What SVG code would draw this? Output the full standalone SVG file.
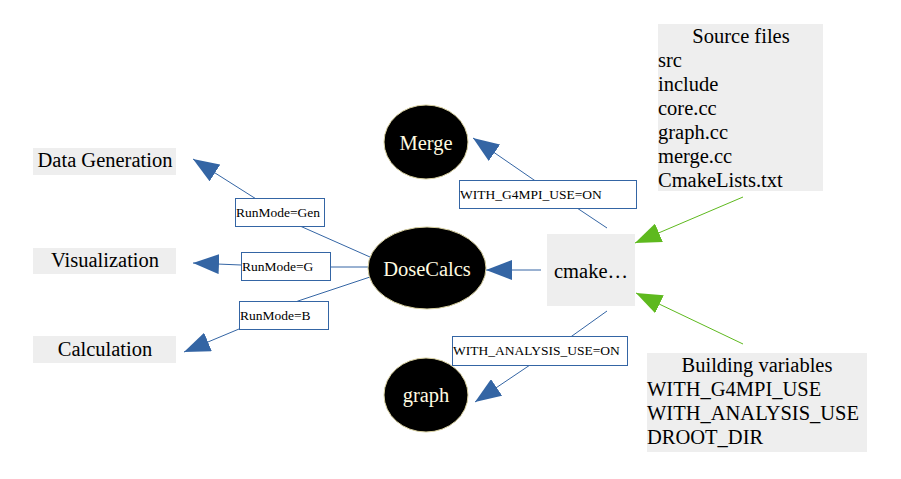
<svg xmlns="http://www.w3.org/2000/svg" width="901" height="479" viewBox="0 0 901 479">
<defs>
<marker id="ab" markerUnits="userSpaceOnUse" markerWidth="26" markerHeight="20" refX="26" refY="10" orient="auto" viewBox="0 0 26 20">
<path d="M0,0 L26,10 L0,20 z" fill="#3465a4"/>
</marker>
<marker id="ag" markerUnits="userSpaceOnUse" markerWidth="26" markerHeight="20" refX="26" refY="10" orient="auto" viewBox="0 0 26 20">
<path d="M0,0 L26,10 L0,20 z" fill="#5eb91e"/>
</marker>
<style>
.t{font-family:"Liberation Serif","Times New Roman",serif;font-size:20.5px;fill:#000}
.c{text-anchor:middle}
.w{font-family:"Liberation Serif","Times New Roman",serif;font-size:20.5px;fill:#fffbe0;text-anchor:middle}
.l{font-family:"Liberation Serif","Times New Roman",serif;font-size:13.5px;fill:#000}
.g{fill:#eeeeee}
.e{fill:#000;stroke:#d8d0a0;stroke-width:1}
.cb{fill:none;stroke:#3465a4;stroke-width:1;marker-end:url(#ab)}
.cg{fill:none;stroke:#5eb91e;stroke-width:1;marker-end:url(#ag)}
.lb{fill:#fff;stroke:#3465a4;stroke-width:1}
</style>
</defs>
<g id="connectors">
<path class="cb" d="M370,257 L300,226 L253,197 L193,159"/>
<path class="cb" d="M369,267 L330,267 L241,265 L193,263"/>
<path class="cb" d="M370,277 L298,301 L239,329 L184,352"/>
<path class="cb" d="M607,228 L577,208 L534,180 L473,138"/>
<path class="cb" d="M607,311 L572,336 L530,365 L475,402"/>
<path class="cb" d="M541,270 L486,270"/>
<path class="cg" d="M743,197 L635,243"/>
<path class="cg" d="M743,344 L636,293"/>
<g id="label-gen"><rect class="lb" x="235.5" y="198.5" width="89" height="28"/><text class="l" x="236" y="217">RunMode=Gen</text></g>
<g id="label-g"><rect class="lb" x="241.5" y="252.5" width="89" height="28"/><text class="l" x="242" y="271">RunMode=G</text></g>
<g id="label-b"><rect class="lb" x="239.5" y="301.5" width="89" height="28"/><text class="l" x="240" y="320">RunMode=B</text></g>
<g id="label-mpi"><rect class="lb" x="459.5" y="180.5" width="177" height="28"/><text class="l" x="460" y="199">WITH_G4MPI_USE=ON</text></g>
<g id="label-ana"><rect class="lb" x="452.5" y="336.5" width="175" height="29"/><text class="l" x="453" y="355">WITH_ANALYSIS_USE=ON</text></g>
</g>
<g id="datagen"><rect class="g" x="33" y="148" width="143" height="27"/><text class="t c" x="105" y="167">Data Generation</text></g>
<g id="visualization"><rect class="g" x="33" y="248" width="143" height="26"/><text class="t c" x="105" y="267">Visualization</text></g>
<g id="calculation"><rect class="g" x="33" y="336" width="143" height="27"/><text class="t c" x="105" y="356">Calculation</text></g>
<g id="merge"><ellipse class="e" cx="426" cy="142" rx="42" ry="37"/><text class="w" x="426" y="150">Merge</text></g>
<g id="dosecalcs"><ellipse class="e" cx="427" cy="268" rx="59" ry="41"/><text class="w" x="427" y="276">DoseCalcs</text></g>
<g id="graph"><ellipse class="e" cx="426" cy="395" rx="42" ry="37"/><text class="w" x="426" y="402">graph</text></g>
<g id="cmake"><rect class="g" x="547" y="234" width="88" height="72"/><text class="t c" x="591" y="278">cmake…</text></g>
<g id="sources"><rect class="g" x="658" y="24" width="165" height="167"/>
<text class="t c" x="741" y="43">Source files</text>
<text class="t" x="658" y="67">src</text>
<text class="t" x="658" y="91">include</text>
<text class="t" x="658" y="115">core.cc</text>
<text class="t" x="658" y="139">graph.cc</text>
<text class="t" x="658" y="163">merge.cc</text>
<text class="t" x="658" y="187">CmakeLists.txt</text>
</g>
<g id="buildvars"><rect class="g" x="647" y="353" width="220" height="99"/>
<text class="t c" x="757" y="372">Building variables</text>
<text class="t" x="647" y="396">WITH_G4MPI_USE</text>
<text class="t" x="647" y="420">WITH_ANALYSIS_USE</text>
<text class="t" x="647" y="444">DROOT_DIR</text>
</g>
</svg>
